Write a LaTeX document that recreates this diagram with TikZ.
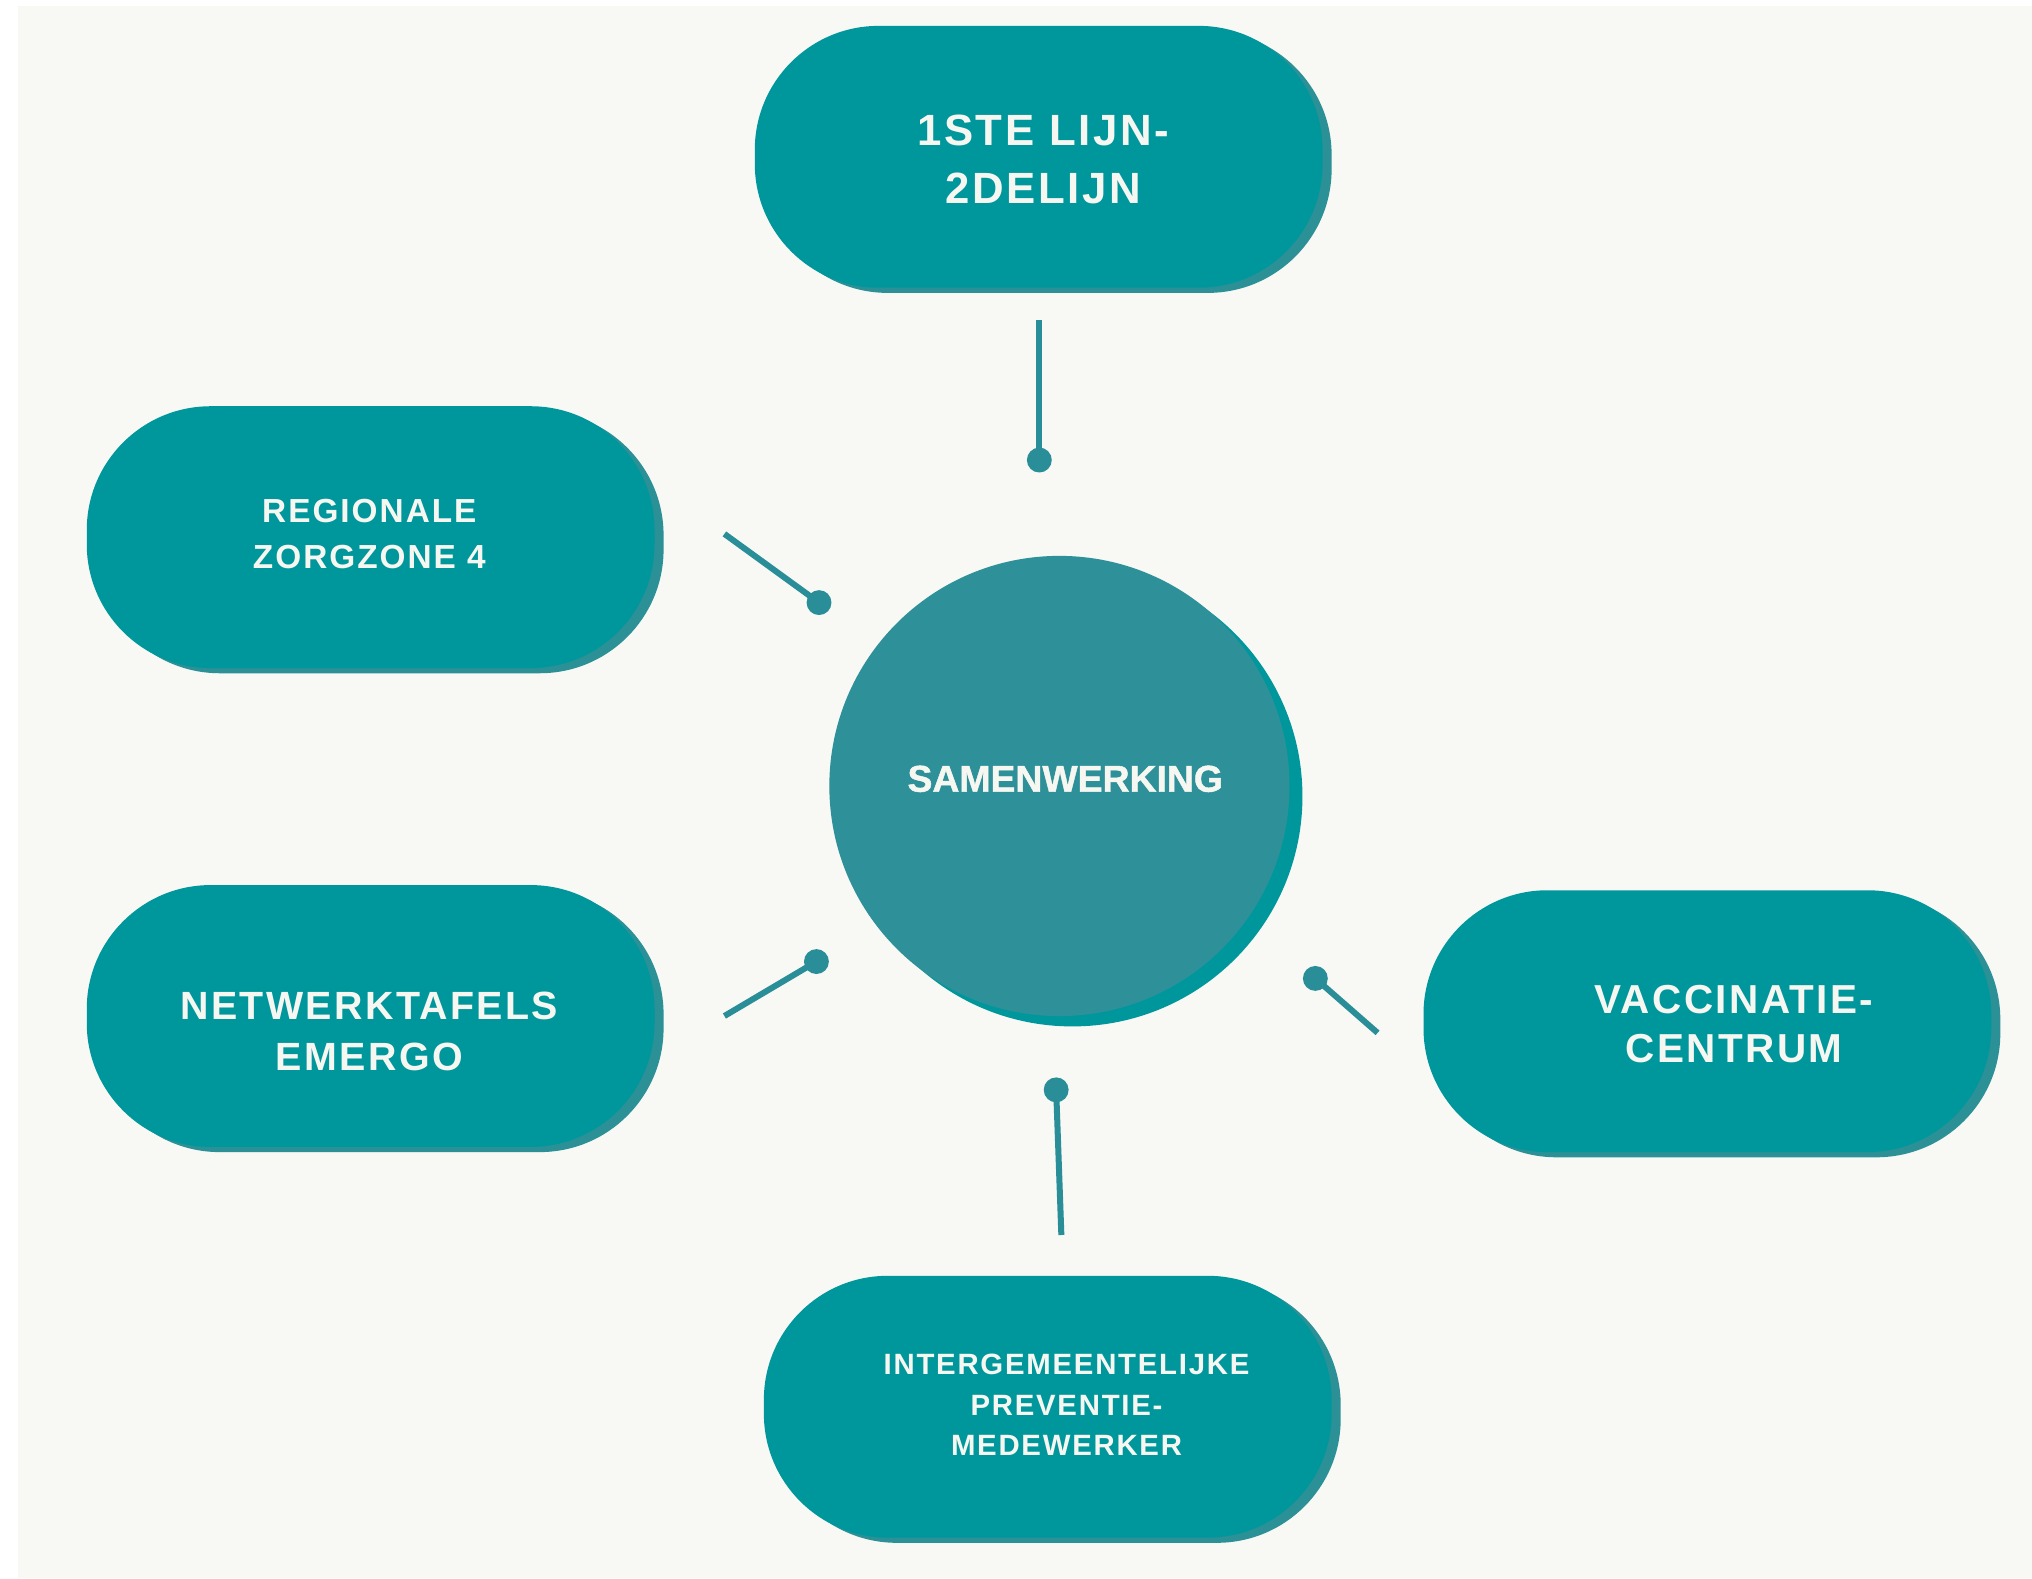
\documentclass[tikz,border=0pt]{standalone}
\usepackage{fontspec}
\setmainfont{Liberation Sans}
\newfontfamily\pillfont[LetterSpace=6]{Liberation Sans}
\newfontfamily\heavyfont[FakeBold=1.2]{Liberation Sans}
\definecolor{bgc}{HTML}{F8F8F4}
\definecolor{pillc}{HTML}{00979C}
\definecolor{pillsh}{HTML}{2C9097}
\definecolor{circc}{HTML}{2E9199}
\definecolor{circsh}{HTML}{00979C}
\definecolor{linec}{HTML}{2A8E98}
\definecolor{txtc}{HTML}{F7F7F2}
\begin{document}
\begin{tikzpicture}[x=0.025cm,y=-0.025cm,
  pillbox/.style={rectangle, rounded corners=68pt, minimum width=10.95cm, minimum height=5.05cm, inner sep=0pt, fill=pillc, draw=none},
  pillshadow/.style={pillbox, fill=pillsh},
  lbl/.style={text=txtc, align=center, inner sep=0pt},
  conn/.style={draw=linec, line width=3.3pt},
  knob/.style={fill=linec}]
\useasboundingbox (0,0) rectangle (1568,1217.7);
\fill[white] (0,0) rectangle (1568,1217.7);
\fill[bgc] (14,5) rectangle (1568,1217.7);

% central circle
\node[circle, fill=circsh, minimum size=8.875cm, inner sep=0pt] (cs) at (827.5,614.5) {};
\node[circle, fill=circc, minimum size=8.875cm, inner sep=0pt] (c) at (817.5,606.5) {};
\node[lbl, font=\heavyfont\bfseries\fontsize{20.5}{24}\selectfont] (ct) at (822,601) {SAMENWERKING};

% pills: shadows
\node[pillshadow] (s1) at (808.5,125) {};
\node[pillshadow] (s2) at (293,418.5) {};
\node[pillshadow] (s3) at (293,788) {};
\node[pillshadow] (s4) at (1324.5,792) {};
\node[pillshadow] (s5) at (815.5,1089.5) {};
% pills
\node[pillbox] (p1) at (801.5,121) {};
\node[pillbox] (p2) at (286,414.5) {};
\node[pillbox] (p3) at (286,784) {};
\node[pillbox] (p4) at (1317.5,788) {};
\node[pillbox] (p5) at (808.5,1085.5) {};

% labels
\node[lbl, font=\pillfont\bfseries\fontsize{24}{32}\selectfont] (t1) at (805,123) {1STE LIJN-\\2DELIJN};
\node[lbl, font=\pillfont\bfseries\fontsize{18.3}{25}\selectfont] (t2) at (285,412) {REGIONALE\\ZORGZONE 4};
\node[lbl, font=\pillfont\bfseries\fontsize{21.6}{28}\selectfont] (t3) at (285,796) {NETWERKTAFELS\\EMERGO};
\node[lbl, font=\pillfont\bfseries\fontsize{22.2}{27}\selectfont] (t4) at (1338,790) {VACCINATIE-\\CENTRUM};
\node[lbl, font=\pillfont\bfseries\fontsize{16.1}{22.4}\selectfont] (t5) at (823,1084) {INTERGEMEENTELIJKE\\PREVENTIE-\\MEDEWERKER};

% connectors
\coordinate (a1) at (802,247);  \coordinate (b1) at (802,355);
\coordinate (a2) at (559,412);  \coordinate (b2) at (632,465);
\coordinate (a3) at (559,784);  \coordinate (b3) at (630,742);
\coordinate (a4) at (1063,797); \coordinate (b4) at (1015,755);
\coordinate (a5) at (819,953);  \coordinate (b5) at (815,841);
\foreach \i in {1,...,5}{
  \draw[conn] (a\i) -- (b\i);
  \fill[knob] (b\i) circle[radius=0.24cm];
}
\end{tikzpicture}
\end{document}
